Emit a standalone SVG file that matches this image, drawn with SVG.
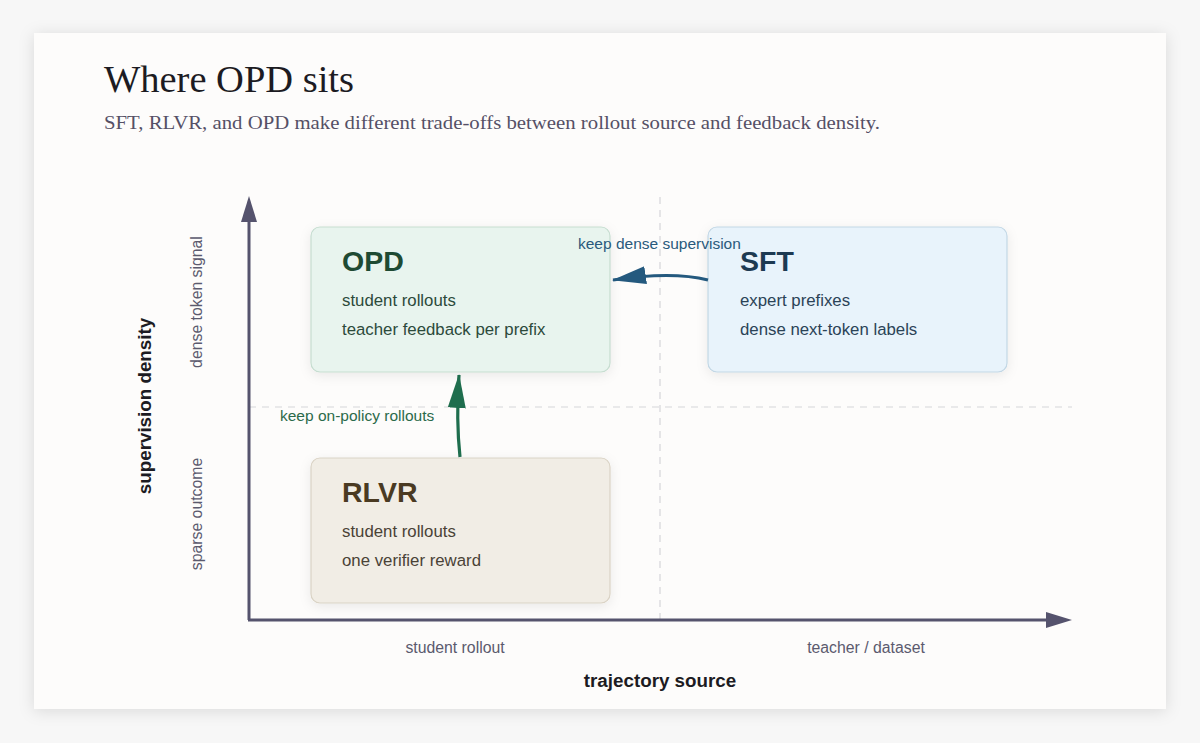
<svg xmlns="http://www.w3.org/2000/svg" width="1200" height="743" viewBox="0 0 1200 743">
<defs>
<filter id="cardShadow" x="-10%" y="-10%" width="120%" height="120%"><feDropShadow dx="0" dy="2" stdDeviation="8" flood-color="#000" flood-opacity="0.12"/></filter>
<filter id="boxShadow" x="-10%" y="-10%" width="120%" height="130%"><feDropShadow dx="0" dy="3" stdDeviation="6" flood-color="#000" flood-opacity="0.08"/></filter>
<marker id="blueHead" markerWidth="34" markerHeight="22" refX="33" refY="11" orient="auto" markerUnits="userSpaceOnUse" viewBox="0 0 34 22"><path d="M0,2 L34,11 L0,20 Z" fill="#24597e"/></marker>
<marker id="greenHead" markerWidth="34" markerHeight="22" refX="33" refY="11" orient="auto" markerUnits="userSpaceOnUse" viewBox="0 0 34 22"><path d="M0,2 L34,11 L0,20 Z" fill="#1f6e4e"/></marker>
</defs>
<style>
.sans{font-family:"Liberation Sans",Arial,sans-serif}
.serif{font-family:"Liberation Serif","DejaVu Serif",serif}
.axis{stroke:#55536d;stroke-width:3;fill:none}
.grid{stroke:#d6d5d9;stroke-width:1.2;stroke-dasharray:7 6;fill:none}
.tick{font-size:15.8px;fill:#5b5a6e}
.axtitle{font-size:18.8px;font-weight:bold;fill:#1c1b22}
.line{font-size:16.8px}
.head{font-size:28.5px;font-weight:bold}
.lbl{font-size:15.5px}
</style>
<rect width="1200" height="743" fill="#f7f7f7"/>
<rect x="34" y="33" width="1132" height="676" fill="#fdfcfb" filter="url(#cardShadow)"/>
<text class="serif" x="104" y="92" font-size="37" fill="#1c1b22" textLength="250" lengthAdjust="spacingAndGlyphs">Where OPD sits</text>
<text class="serif" x="104" y="129" font-size="19" fill="#555066" textLength="776" lengthAdjust="spacingAndGlyphs">SFT, RLVR, and OPD make different trade-offs between rollout source and feedback density.</text>
<g id="axes">
<line class="grid" x1="660" y1="197" x2="660" y2="620"/>
<line class="grid" x1="249" y1="407" x2="1072" y2="407"/>
<path d="M249,620 L249,210" class="axis"/>
<path d="M241,222 L249,196 L257,222 Z" fill="#55536d"/>
<path d="M248,620 L1048,620" class="axis"/>
<path d="M1046,612 L1072,620 L1046,628 Z" fill="#55536d"/>
<text class="sans tick" x="455" y="653" text-anchor="middle">student rollout</text>
<text class="sans tick" x="866" y="653" text-anchor="middle">teacher / dataset</text>
<text class="sans axtitle" x="660" y="687" text-anchor="middle">trajectory source</text>
<text class="sans axtitle" transform="translate(151,406) rotate(-90)" text-anchor="middle">supervision density</text>
<text class="sans tick" transform="translate(202,302) rotate(-90)" text-anchor="middle">dense token signal</text>
<text class="sans tick" transform="translate(202,514) rotate(-90)" text-anchor="middle">sparse outcome</text>
</g>
<g id="node-opd">
<rect x="311" y="227" width="299" height="145" rx="9" fill="#e8f4ee" stroke="#c6ddd0" stroke-width="1.2" filter="url(#boxShadow)"/>
<text class="sans head" x="342" y="271" fill="#1e4a33">OPD</text>
<text class="sans line" x="342" y="306" fill="#2c4a3b">student rollouts</text>
<text class="sans line" x="342" y="335" fill="#2c4a3b">teacher feedback per prefix</text>
</g>
<g id="node-sft">
<rect x="708" y="227" width="299" height="145" rx="9" fill="#e8f3fb" stroke="#c2d7e5" stroke-width="1.2" filter="url(#boxShadow)"/>
<text class="sans head" x="740" y="271" fill="#1d3a52">SFT</text>
<text class="sans line" x="740" y="306" fill="#2b4357">expert prefixes</text>
<text class="sans line" x="740" y="335" fill="#2b4357">dense next-token labels</text>
</g>
<g id="node-rlvr">
<rect x="311" y="458" width="299" height="145" rx="9" fill="#f1ede5" stroke="#dad3c5" stroke-width="1.2" filter="url(#boxShadow)"/>
<text class="sans head" x="342" y="502" fill="#4a3a22">RLVR</text>
<text class="sans line" x="342" y="537" fill="#4a4236">student rollouts</text>
<text class="sans line" x="342" y="566" fill="#4a4236">one verifier reward</text>
</g>
<g id="connectors">
<path d="M708,280 Q672,271 613,280" fill="none" stroke="#24597e" stroke-width="3.2" marker-end="url(#blueHead)"/>
<text class="sans lbl" x="578" y="249" fill="#2a5a7c">keep dense supervision</text>
<path d="M460,457 Q456,420 459,375" fill="none" stroke="#1f6e4e" stroke-width="3.2" marker-end="url(#greenHead)"/>
<text class="sans lbl" x="280" y="421" fill="#2b6a4a">keep on-policy rollouts</text>
</g>
</svg>
